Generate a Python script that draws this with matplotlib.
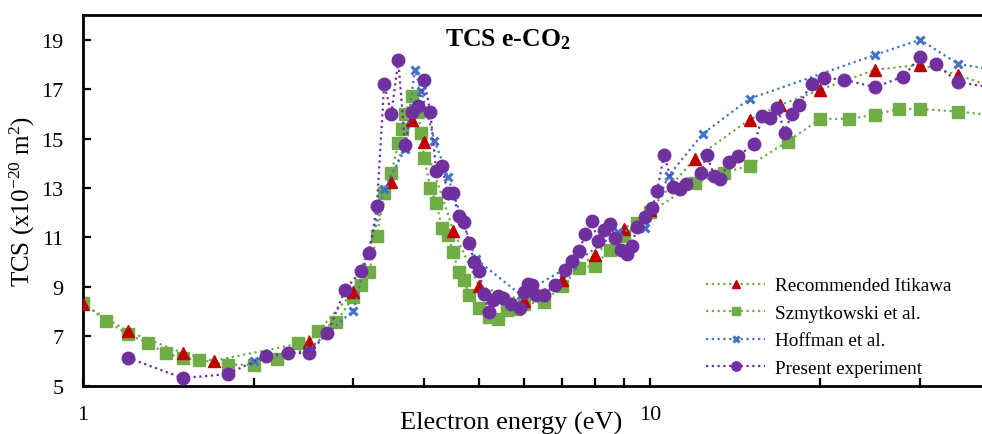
import matplotlib
matplotlib.use('Agg')
import matplotlib.pyplot as plt
from matplotlib.ticker import FixedLocator, NullFormatter

# Data (energy in eV, TCS in 1e-20 m^2)
itikawa_e = [1.0, 1.2, 1.5, 1.7, 2.5, 3.0, 3.5, 3.8, 4.0, 4.5, 5.0, 6.0, 7.0, 8.0, 9.0,
             10.0, 12.0, 15.0, 17.0, 20.0, 25.0, 30.0, 35.0, 40.0]
itikawa_tcs = [8.3, 7.2, 6.32, 6.01, 6.78, 8.8, 13.26, 15.77, 14.85, 11.28, 9.02, 8.44, 9.28,
               10.29, 11.34, 12.1, 14.18, 15.77, 16.36, 16.98, 17.79, 17.98, 17.58, 17.1]

szmyt_e = [1.0, 1.1, 1.2, 1.3, 1.4, 1.5, 1.6, 1.8, 2.0, 2.2, 2.4, 2.6, 2.8, 3.0, 3.1, 3.2,
           3.3, 3.4, 3.5, 3.6, 3.65, 3.7, 3.8, 3.9, 3.95, 4.0, 4.1, 4.2, 4.3, 4.4, 4.5,
           4.6, 4.7, 4.8, 5.0, 5.2, 5.4, 5.6, 5.8, 6.0, 6.5, 7.0, 7.5, 8.0, 8.5, 9.0,
           9.5, 10.0, 12.0, 13.5, 15.0, 17.5, 20.0, 22.5, 25.0, 27.5, 30.0, 35.0, 40.0]
szmyt_tcs = [8.35, 7.61, 7.09, 6.72, 6.32, 6.11, 6.05, 5.85, 5.85, 6.08, 6.72, 7.23, 7.59,
             8.6, 9.09, 9.59, 11.07, 12.79, 13.6, 14.81, 15.39, 16.0, 16.72, 16.09, 15.22,
             14.21, 13.0, 12.4, 11.38, 11.1, 10.4, 9.59, 9.28, 8.67, 8.15, 7.77, 7.7, 8.06,
             8.11, 8.31, 8.4, 9.02, 9.75, 9.86, 10.51, 11.07, 11.59, 12.02, 13.19, 13.61,
             13.91, 14.88, 15.8, 15.8, 15.97, 16.2, 16.2, 16.09, 15.95]

hoffman_e = [2.0, 2.5, 3.0, 3.4, 3.7, 3.85, 3.95, 4.17, 4.4, 4.93, 5.92, 7.3, 8.8, 9.8,
             10.8, 12.4, 15.0, 25.0, 30.0, 35.0, 40.0]
hoffman_tcs = [6.0, 6.46, 8.04, 12.96, 14.58, 17.79, 16.94, 14.92, 13.46, 10.13, 8.68, 9.9,
               11.21, 11.37, 13.5, 15.19, 16.61, 18.39, 19.0, 18.02, 17.8]

present_e = [1.2, 1.5, 1.8, 2.1, 2.3, 2.5, 2.7, 2.9, 3.1, 3.2, 3.3, 3.4, 3.5, 3.6, 3.7,
             3.8, 3.9, 4.0, 4.1, 4.2, 4.3, 4.4, 4.5, 4.6, 4.7, 4.8, 4.9, 5.0, 5.1, 5.2,
             5.3, 5.4, 5.5, 5.7, 5.9, 6.0, 6.1, 6.2, 6.3, 6.5, 6.8, 7.1, 7.3, 7.5, 7.7,
             7.9, 8.1, 8.3, 8.5, 8.7, 8.9, 9.1, 9.3, 9.5, 9.8, 10.1, 10.3, 10.6, 11.0,
             11.3, 11.6, 12.3, 12.6, 13.0, 13.3, 13.8, 14.3, 15.3, 15.8, 16.3, 16.8,
             17.3, 17.8, 18.3, 19.3, 20.3, 22.0, 25.0, 28.0, 30.0, 32.0, 35.0, 40.0]
present_tcs = [6.13, 5.31, 5.47, 6.21, 6.32, 6.32, 7.12, 8.89, 9.66, 10.37, 12.26, 17.21,
               15.99, 18.16, 14.74, 16.07, 16.31, 17.35, 16.07, 13.68, 13.91, 12.79, 12.79,
               11.86, 11.62, 10.78, 10.02, 9.63, 8.71, 7.97, 8.47, 8.64, 8.55, 8.31, 8.15,
               8.78, 9.12, 9.08, 8.67, 8.67, 9.09, 9.68, 10.06, 10.44, 11.14, 11.68, 10.85,
               11.32, 11.55, 10.97, 10.51, 10.33, 10.67, 11.41, 11.84, 12.18, 12.87, 14.35,
               13.03, 12.94, 13.17, 13.61, 14.35, 13.48, 13.37, 14.04, 14.31, 14.76, 15.91,
               15.84, 16.23, 15.23, 16.0, 16.36, 17.21, 17.46, 17.38, 17.08, 17.51, 18.32,
               18.02, 17.28, 17.07]

plt.rcParams['font.family'] = ['Liberation Serif', 'DejaVu Serif']
plt.rcParams['mathtext.fontset'] = 'custom'
plt.rcParams['mathtext.rm'] = 'Liberation Serif'
plt.rcParams['mathtext.it'] = 'Liberation Serif:italic'
plt.rcParams['mathtext.bf'] = 'Liberation Serif:bold'

fig = plt.figure(figsize=(9.82, 4.35), dpi=100)
ax = fig.add_axes([83 / 982, 48.3 / 435, 908 / 982, 370.7 / 435])

dot = (0, (1, 1.6))
ax.plot(itikawa_e, itikawa_tcs, color='#70AD47', linestyle=dot, linewidth=1.6,
        marker='^', markersize=8, markerfacecolor='#C00000', markeredgecolor='#C00000',
        label='Recommended Itikawa', zorder=3)
ax.plot(szmyt_e, szmyt_tcs, color='#70AD47', linestyle=dot, linewidth=1.6,
        marker='s', markersize=8, markerfacecolor='#70AD47', markeredgecolor='#70AD47',
        label='Szmytkowski et al.', zorder=2)
ax.plot(hoffman_e, hoffman_tcs, color='#4472C4', linestyle=dot, linewidth=1.6,
        marker='x', markersize=6, markeredgewidth=2.2,
        label='Hoffman et al.', zorder=4)
ax.plot(present_e, present_tcs, color='#7030A0', linestyle=dot, linewidth=1.6,
        marker='o', markersize=9, markerfacecolor='#7030A0', markeredgecolor='#7030A0',
        label='Present experiment', zorder=5)

ax.set_xscale('log')
ax.set_xlim(1, 40)
ax.set_ylim(5, 20)
ax.set_yticks([5, 7, 9, 11, 13, 15, 17, 19])
ax.xaxis.set_major_locator(FixedLocator([1, 10]))
ax.xaxis.set_minor_locator(FixedLocator([2, 3, 4, 5, 6, 7, 8, 9, 20, 30]))
ax.xaxis.set_minor_formatter(NullFormatter())
ax.set_xticklabels(['1', '10'])

ax.tick_params(axis='both', which='both', direction='in', width=1.6, length=6,
               labelsize=16, colors='black')
ax.tick_params(axis='x', which='major', pad=14)
ax.tick_params(axis='y', pad=14)
for side in ['left', 'bottom', 'top', 'right']:
    ax.spines[side].set_linewidth(2)

ax.set_xlabel('Electron energy (eV)', fontsize=19, labelpad=-12)
ax.xaxis.set_label_coords(0.471, -0.068)
ax.set_ylabel('TCS (x10$^{-20}$ m$^{2}$)', fontsize=18, labelpad=3)
ax.text(0.468, 0.935, 'TCS e-CO$_\\mathbf{2}$', transform=ax.transAxes, ha='center',
        va='center', fontsize=18.5, fontweight='bold')

ax.legend(loc='lower right', bbox_to_anchor=(0.976, -0.022), frameon=False, fontsize=13.8,
          markerscale=0.75, handlelength=3.05, labelspacing=0.52, handletextpad=0.55)

fig.savefig('out.png', dpi=100)
